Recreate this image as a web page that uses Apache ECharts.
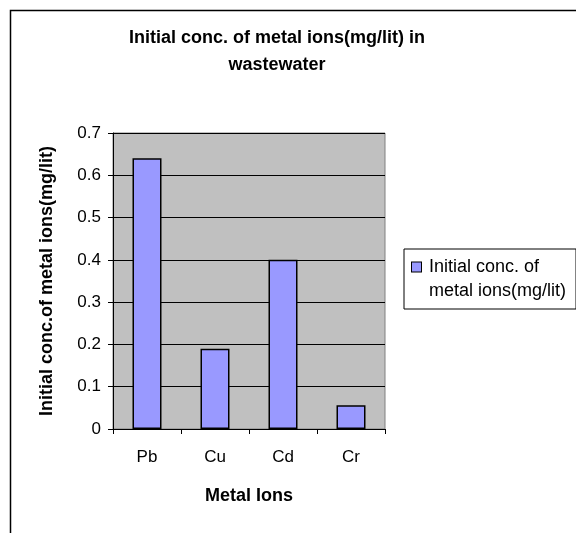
<!DOCTYPE html>
<html>
<head>
<meta charset="utf-8">
<script src="https://cdn.jsdelivr.net/npm/echarts@6/dist/echarts.min.js"></script>
<style>
html, body { margin: 0; padding: 0; background: #fff; }
#chart { width: 576px; height: 533px; }
</style>
</head>
<body>
<div id="chart"></div>
<script>
var categories = ['Pb', 'Cu', 'Cd', 'Cr'];
var values = [0.64, 0.19, 0.40, 0.056];
var seriesName = 'Initial conc. of metal ions(mg/lit)';

var myChart = echarts.init(document.getElementById('chart'));
var font = 'Liberation Sans, Arial, sans-serif';

var option = {
    backgroundColor: '#fff',
    animation: false,
    title: {
        text: 'Initial conc. of metal ions(mg/lit) in\nwastewater',
        left: 272,
        top: 20,
        textAlign: 'center',
        textStyle: {
            fontFamily: font,
            fontSize: 18,
            fontWeight: 'bold',
            color: '#000',
            lineHeight: 27
        }
    },
    graphic: [{
        type: 'rect',
        shape: { x: 10.5, y: 10.5, width: 600, height: 600 },
        style: { fill: 'none', stroke: '#000', lineWidth: 1.5 },
        silent: true
    }],
    legend: {
        left: 404,
        top: 249,
        orient: 'vertical',
        data: [seriesName],
        icon: 'none',
        itemWidth: 0,
        itemHeight: 0,
        itemGap: 0,
        formatter: function () {
            return '{box|}{gap|}Initial conc. of\n{ind|}metal ions(mg/lit)';
        },
        backgroundColor: '#fff',
        borderColor: '#000',
        borderWidth: 1,
        borderRadius: 0,
        padding: [6, 10, 6, 3],
        textStyle: {
            fontFamily: font,
            fontSize: 18,
            color: '#000',
            lineHeight: 24,
            rich: {
                box: {
                    width: 9,
                    height: 9,
                    backgroundColor: '#9999ff',
                    borderColor: '#000',
                    borderWidth: 1
                },
                gap: { width: 8 },
                ind: { width: 17 }
            }
        }
    },
    grid: {
        left: 113,
        top: 133,
        width: 272,
        height: 296,
        show: true,
        backgroundColor: '#c0c0c0',
        borderColor: '#808080',
        borderWidth: 1
    },
    xAxis: {
        type: 'category',
        data: categories,
        name: 'Metal Ions',
        nameLocation: 'middle',
        nameGap: 58,
        nameTextStyle: {
            fontFamily: font,
            fontSize: 18,
            fontWeight: 'bold',
            color: '#000'
        },
        axisLine: { lineStyle: { color: '#000', width: 1 } },
        axisTick: { show: true, length: 5, lineStyle: { color: '#000' } },
        axisLabel: {
            fontFamily: font,
            fontSize: 17,
            color: '#000',
            margin: 20
        }
    },
    yAxis: {
        type: 'value',
        min: 0,
        max: 0.7,
        interval: 0.1,
        name: 'Initial conc.of metal ions(mg/lit)',
        nameLocation: 'middle',
        nameGap: 57,
        nameTextStyle: {
            fontFamily: font,
            fontSize: 18,
            fontWeight: 'bold',
            color: '#000'
        },
        axisLine: { show: true, lineStyle: { color: '#000', width: 1 } },
        axisTick: { show: true, length: 5, lineStyle: { color: '#000' } },
        splitLine: { show: true, lineStyle: { color: '#000', width: 1 } },
        axisLabel: {
            fontFamily: font,
            fontSize: 17,
            color: '#000',
            margin: 12,
            formatter: function (v) { return String(Math.round(v * 10) / 10); }
        }
    },
    series: [{
        name: seriesName,
        type: 'bar',
        data: values,
        barWidth: 29,
        itemStyle: {
            color: '#9999ff',
            borderColor: '#000',
            borderWidth: 1.5
        }
    }]
};
myChart.setOption(option);
</script>
</body>
</html>
